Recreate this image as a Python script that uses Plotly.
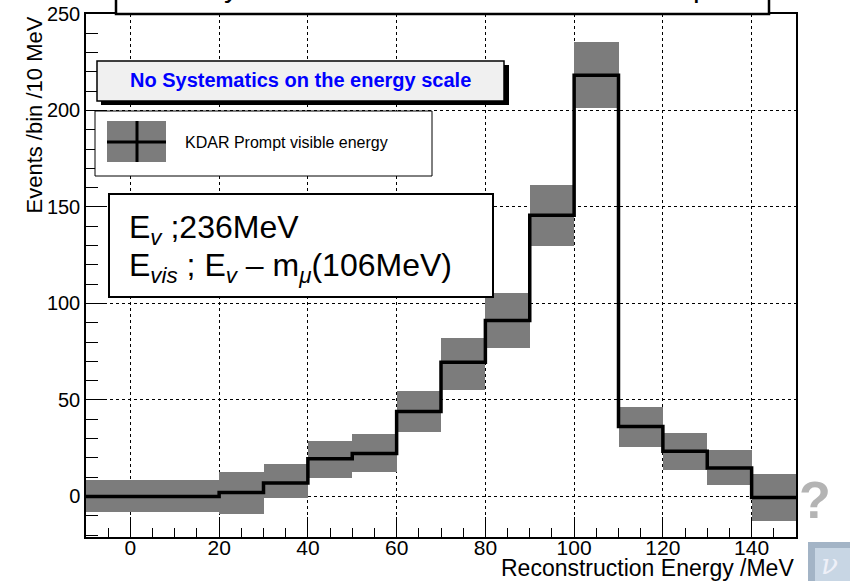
import plotly.graph_objects as go

# ---- data ----
bin_edges = [-10, 0, 10, 20, 30, 40, 50, 60, 70, 80, 90, 100, 110, 120, 130, 140, 150]
counts = [0, 0, 0, 2, 7, 19.5, 22.3, 44, 69.5, 91.2, 145.7, 218.2, 36.2, 23.4, 14.8, -0.5]
band_center = [0, 0, 0, 1.6, 8.1, 19.2, 22.5, 44, 68.6, 91.1, 145.6, 218.4, 36, 23.2, 15.2, -0.4]
band_half = [8.3, 8.3, 8.3, 10.9, 8.8, 9.6, 9.8, 10.8, 13.5, 14.4, 15.7, 17, 10.2, 9.6, 9, 12.3]

x_title = "Reconstruction Energy /MeV"
y_title = "Events /bin /10 MeV"
legend_label = "KDAR Prompt visible energy"
banner_text = "No Systematics on the energy scale"
note_line1 = "E<sub><i>v</i></sub> ;236MeV"
note_line2 = "E<sub><i>vis</i></sub> ; E<sub><i>v</i></sub> – m<sub><i>μ</i></sub>(106MeV)"

FONT = "Liberation Sans"
BAND = "#7c7c7c"

# plot-area geometry in page pixels
L, R, T, B = 86, 796, 14, 537
def px(x):
    return (x - L) / (R - L)
def py(y):
    return (B - y) / (B - T)

centers = [(a + b) / 2 for a, b in zip(bin_edges[:-1], bin_edges[1:])]
widths = [b - a for a, b in zip(bin_edges[:-1], bin_edges[1:])]

fig = go.Figure()
fig.add_trace(go.Bar(
    x=centers, y=[2 * h for h in band_half],
    base=[c - h for c, h in zip(band_center, band_half)],
    width=widths,
    marker=dict(color=BAND, line=dict(width=0)),
    hoverinfo="skip",
))
fig.add_trace(go.Scatter(
    x=bin_edges, y=counts + [counts[-1]],
    mode="lines", line=dict(shape="hv", color="black", width=3.5),
    hoverinfo="skip",
))

shapes = []
annotations = []

# axis titles
annotations.append(dict(text=x_title, xref="paper", yref="paper", x=1.0, y=py(568),
                        xanchor="right", yanchor="middle", showarrow=False,
                        font=dict(family=FONT, size=23, color="black")))
annotations.append(dict(text=y_title, xref="paper", yref="paper", x=px(34), y=py(15),
                        xanchor="center", yanchor="top", textangle=-90, showarrow=False,
                        font=dict(family=FONT, size=22, color="black")))

# top (cut-off) box
shapes.append(dict(type="rect", xref="paper", yref="paper",
                   x0=px(116), x1=px(769), y0=py(14), y1=py(-20),
                   line=dict(color="black", width=2.5), fillcolor="white", layer="above"))
annotations.append(dict(text="y", xref="paper", yref="paper", x=px(231), y=py(5),
                        xanchor="center", yanchor="bottom", showarrow=False,
                        font=dict(family=FONT, size=30, color="black")))
annotations.append(dict(text="p", xref="paper", yref="paper", x=px(701), y=py(5),
                        xanchor="center", yanchor="bottom", showarrow=False,
                        font=dict(family=FONT, size=30, color="black")))

# banner with shadow
shapes.append(dict(type="rect", xref="paper", yref="paper",
                   x0=px(101), x1=px(509), y0=py(105), y1=py(65),
                   line=dict(width=0), fillcolor="black", layer="above"))
shapes.append(dict(type="rect", xref="paper", yref="paper",
                   x0=px(97), x1=px(504), y0=py(101), y1=py(61),
                   line=dict(color="black", width=1.5), fillcolor="#f0f0f0", layer="above"))
annotations.append(dict(text="<b>" + banner_text + "</b>", xref="paper", yref="paper",
                        x=px(300.5), y=py(80), xanchor="center", yanchor="middle",
                        showarrow=False, font=dict(family=FONT, size=20, color="#0000ff")))

# legend box
shapes.append(dict(type="rect", xref="paper", yref="paper",
                   x0=px(95), x1=px(432), y0=py(176), y1=py(111),
                   line=dict(color="black", width=1), fillcolor="white", layer="above"))
shapes.append(dict(type="rect", xref="paper", yref="paper",
                   x0=px(107), x1=px(166), y0=py(162), y1=py(121),
                   line=dict(width=0), fillcolor=BAND, layer="above"))
shapes.append(dict(type="line", xref="paper", yref="paper",
                   x0=px(107), x1=px(166), y0=py(142), y1=py(142),
                   line=dict(color="black", width=3), layer="above"))
shapes.append(dict(type="line", xref="paper", yref="paper",
                   x0=px(137), x1=px(137), y0=py(162), y1=py(121),
                   line=dict(color="black", width=3), layer="above"))
annotations.append(dict(text=legend_label, xref="paper", yref="paper",
                        x=px(183), y=py(142), xanchor="left", yanchor="middle",
                        showarrow=False, font=dict(family=FONT, size=16, color="black")))

# note box
shapes.append(dict(type="rect", xref="paper", yref="paper",
                   x0=px(109), x1=px(493), y0=py(297), y1=py(194),
                   line=dict(color="black", width=2), fillcolor="white", layer="above"))
annotations.append(dict(text=note_line1, xref="paper", yref="paper",
                        x=px(127), y=py(229), xanchor="left", yanchor="middle",
                        showarrow=False, font=dict(family=FONT, size=32, color="black")))
annotations.append(dict(text=note_line2, xref="paper", yref="paper",
                        x=px(127), y=py(267), xanchor="left", yanchor="middle",
                        showarrow=False, font=dict(family=FONT, size=32, color="black")))

# slide remnants at bottom right
annotations.append(dict(text="<b>?</b>", xref="paper", yref="paper",
                        x=px(797), y=py(500), xanchor="left", yanchor="middle",
                        showarrow=False, font=dict(family=FONT, size=52, color="#b4b4b4")))
shapes.append(dict(type="rect", xref="paper", yref="paper",
                   x0=px(808), x1=px(860), y0=py(590), y1=py(542),
                   line=dict(width=0), fillcolor="#a3b4c6", layer="above"))
shapes.append(dict(type="rect", xref="paper", yref="paper",
                   x0=px(815), x1=px(860), y0=py(590), y1=py(548),
                   line=dict(width=0), fillcolor="#c8d6e4", layer="above"))
annotations.append(dict(text="<i>ν</i>", xref="paper", yref="paper",
                        x=px(829), y=py(564), xanchor="center", yanchor="middle",
                        showarrow=False, font=dict(family="DejaVu Serif", size=28, color="#eef0f8")))

fig.update_layout(
    width=850, height=581,
    margin=dict(l=L, r=850 - R, t=T, b=581 - B, pad=0, autoexpand=False),
    paper_bgcolor="white", plot_bgcolor="white",
    showlegend=False, bargap=0, barmode="overlay",
    shapes=shapes, annotations=annotations,
    font=dict(family=FONT, color="black"),
)
fig.update_xaxes(
    range=[-10, 150], tick0=0, dtick=20, automargin=False,
    ticks="inside", ticklen=20, tickwidth=1.2, tickcolor="black",
    minor=dict(dtick=5, ticks="inside", ticklen=9, tickwidth=1.2, tickcolor="black", showgrid=False),
    showgrid=True, gridcolor="black", griddash="dot", gridwidth=1,
    showline=True, linecolor="black", linewidth=1.5, mirror=True, zeroline=False,
    tickfont=dict(family=FONT, size=21, color="black"), ticklabelstandoff=-9,
)
fig.update_yaxes(
    range=[-21, 250], tick0=0, dtick=50, automargin=False,
    ticks="inside", ticklen=20, tickwidth=1.2, tickcolor="black",
    minor=dict(dtick=10, ticks="inside", ticklen=12, tickwidth=1.2, tickcolor="black", showgrid=False),
    showgrid=True, gridcolor="black", griddash="dot", gridwidth=1,
    showline=True, linecolor="black", linewidth=1.5, mirror=True, zeroline=False,
    tickfont=dict(family=FONT, size=20, color="black"),
)

fig.write_html(
    "out.html",
    config={"displayModeBar": False},
    post_script="document.body.style.margin='0';document.body.style.overflow='hidden';",
)
